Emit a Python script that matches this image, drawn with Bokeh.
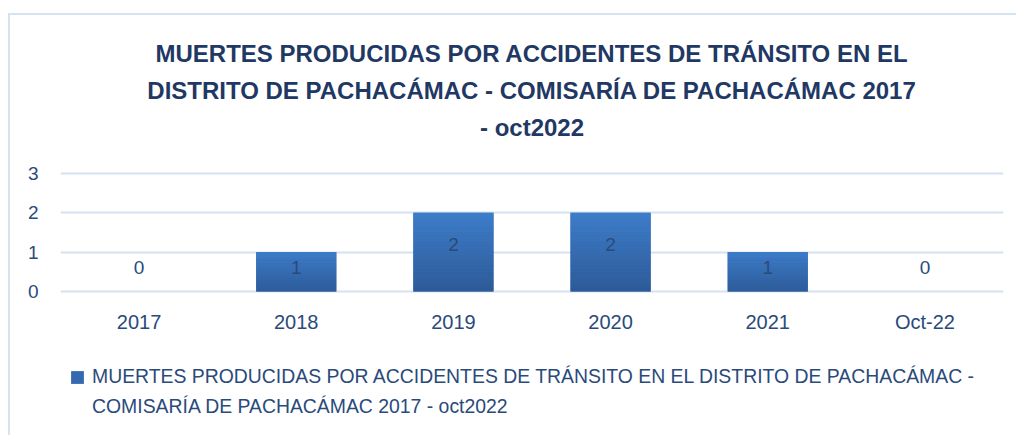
from bokeh.plotting import figure
from bokeh.models import (ColumnDataSource, Legend, LegendItem, Title, FactorRange,
                          Range1d, FixedTicker)
from bokeh.embed import file_html
from bokeh.resources import INLINE

# ---- data ----
categories = ["2017", "2018", "2019", "2020", "2021", "Oct-22"]
deaths = [0, 1, 2, 2, 1, 0]
y_ticks = [0, 1, 2, 3]
title_lines = [
    "MUERTES PRODUCIDAS POR ACCIDENTES DE TRÁNSITO EN EL",
    "DISTRITO DE PACHACÁMAC - COMISARÍA DE PACHACÁMAC 2017",
    "- oct2022",
]
legend_lines = [
    "MUERTES PRODUCIDAS POR ACCIDENTES DE TRÁNSITO EN EL DISTRITO DE PACHACÁMAC -",
    "COMISARÍA DE PACHACÁMAC 2017 - oct2022",
]

FONT = "Liberation Sans"
TXT = "#2a4a7b"
TITLE_C = "#1f3864"
GRID = "#d6e2f2"
BAR_TOP = (0x3d, 0x7c, 0xc9)
BAR_BOT = (0x2d, 0x5b, 0x98)
BAR_MID = "#3569b0"
BAR_W = 0.51

p = figure(
    width=1008, height=422,
    x_range=FactorRange(factors=categories),
    # frame also holds the gap under the title and the legend area below the labels
    y_range=Range1d(-3.331, 3.737),
    output_backend="svg", toolbar_location=None,
    min_border_left=50, min_border_right=15,
    min_border_top=129, min_border_bottom=15,
    title=None,
)
p.outline_line_color = None
p.styles = {"border-left": "2px solid #d6e3f3", "border-top": "2px solid #d6e3f3",
            "margin-left": "8px", "margin-top": "13px"}

# title lines: added bottom line first (stacked outward from the frame)
for line in reversed(title_lines):
    p.add_layout(Title(text=line, align="center",
                       text_font_size="24px", text_font_style="bold",
                       text_color=TITLE_C, text_font=FONT, standoff=8), "above")

# base bars (used for legend)
src = ColumnDataSource(dict(x=categories, top=deaths))
base = p.vbar(x="x", top="top", width=BAR_W, source=src,
              fill_color=BAR_MID, line_color=None)
ghost = p.vbar(x="x", top="top", width=BAR_W, source=src,
               fill_alpha=0, line_alpha=0)

# gradient overlay built from the data values
n = 24
gx, gb, gt, gc = [], [], [], []
for c, v in zip(categories, deaths):
    if v <= 0:
        continue
    for i in range(n):
        f = i / (n - 1)
        col = tuple(int(round(BAR_BOT[k] + (BAR_TOP[k] - BAR_BOT[k]) * f)) for k in range(3))
        gx.append(c)
        gb.append(v * i / n)
        gt.append(v * (i + 1) / n + v * 0.002)
        gc.append("#%02x%02x%02x" % col)
p.vbar(x=gx, bottom=gb, top=gt, width=BAR_W, fill_color=gc, line_color=None)

# data labels
lab_y = [max(v, 1) * 0.6 for v in deaths]
p.text(x=categories, y=lab_y, text=[str(v) for v in deaths],
       text_align="center", text_baseline="middle",
       text_font_size="19px", text_color=TXT, text_font={"value": FONT})

# axes
p.xaxis.fixed_location = 0
p.xaxis.axis_line_color = None
p.xaxis.major_tick_line_color = None
p.xaxis.minor_tick_line_color = None
p.xaxis.major_tick_out = 0
p.xaxis.major_tick_in = 0
p.xaxis.major_label_standoff = 20
p.xaxis.major_label_text_font_size = "20px"
p.xaxis.major_label_text_color = TXT
p.xaxis.major_label_text_font = FONT

p.yaxis.ticker = FixedTicker(ticks=y_ticks)
p.yaxis.axis_line_color = None
p.yaxis.major_tick_line_color = None
p.yaxis.minor_tick_line_color = None
p.yaxis.major_tick_out = 0
p.yaxis.major_tick_in = 0
p.yaxis.major_label_standoff = 22
p.yaxis.major_label_text_font_size = "19px"
p.yaxis.major_label_text_color = TXT
p.yaxis.major_label_text_font = FONT

p.xgrid.grid_line_color = None
p.ygrid.grid_line_color = GRID
p.ygrid.grid_line_width = 2

legend = Legend(
    items=[LegendItem(label=legend_lines[0], renderers=[base]),
           LegendItem(label=legend_lines[1], renderers=[ghost])],
    location=(9, 4), orientation="vertical",
    border_line_color=None, background_fill_alpha=0,
    label_text_font_size="19.4px", label_text_color=TXT, label_text_font=FONT,
    glyph_width=16, glyph_height=16, label_standoff=7, label_height=22,
    spacing=7, margin=0, padding=5,
)
p.add_layout(legend, "center")

open("out.html", "w").write(file_html(p, INLINE))
